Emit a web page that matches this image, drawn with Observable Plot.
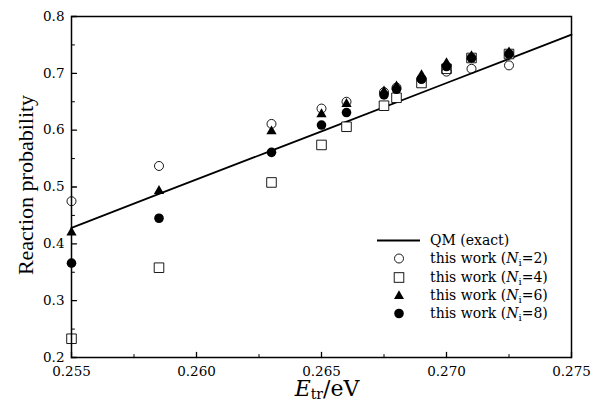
<!DOCTYPE html>
<html>
<head>
<meta charset="utf-8">
<script src="https://cdn.jsdelivr.net/npm/d3@7"></script>
<script src="https://cdn.jsdelivr.net/npm/@observablehq/plot@0.6"></script>
<style>
  html, body { margin: 0; padding: 0; background: #fff; }
  #wrap { position: relative; width: 592px; height: 406px; font-family: "DejaVu Serif", serif; color: #000; }
  #wrap svg { display: block; }
  #wrap svg text, #wrap svg g { font-family: "DejaVu Serif", serif !important; }
  .ylab { position: absolute; left: 26px; top: 185px; transform: translate(-50%, -50%) rotate(-90deg); font-size: 22px; line-height: 1; white-space: nowrap; font-family: "Liberation Serif", serif !important; }
  .xlab { position: absolute; left: 327px; top: 378px; transform: translateX(-50%); font-size: 22px; line-height: 1; white-space: nowrap; font-family: "DejaVu Serif", serif !important; }
  .xlab sub { font-size: 14px; vertical-align: -3px; line-height: 1; }
  .legend { position: absolute; left: 376px; top: 231px; font-size: 14px; font-family: "DejaVu Serif", serif !important; }
  .legend * { font-family: "DejaVu Serif", serif !important; }
  .legend .row { position: relative; height: 18.3px; line-height: 18.3px; white-space: nowrap; }
  .legend svg { position: absolute; left: 0; top: 0; }
  .legend span { position: absolute; left: 54px; top: 0; }
  .legend sub { font-size: 10px; vertical-align: -3px; line-height: 1; }
</style>
</head>
<body>
<div id="wrap"></div>
<script>
// ---- data ----
const energies = [0.255, 0.2585, 0.263, 0.265, 0.266, 0.2675, 0.268, 0.269, 0.270, 0.271, 0.2725];
const n2 = [0.475, 0.537, 0.611, 0.638, 0.650, 0.667, 0.675, 0.690, 0.703, 0.708, 0.714];
const n4 = [0.233, 0.358, 0.508, 0.574, 0.606, 0.643, 0.657, 0.683, 0.708, 0.727, 0.734];
const n6 = [0.420, 0.493, 0.598, 0.628, 0.646, 0.668, 0.677, 0.697, 0.718, 0.730, 0.737];
const n8 = [0.366, 0.445, 0.561, 0.609, 0.631, 0.662, 0.672, 0.690, 0.712, 0.727, 0.734];
const qmE = [0.255, 0.2585, 0.263, 0.265, 0.270, 0.275];
const qmP = [0.428, 0.488, 0.564, 0.598, 0.683, 0.768];
const xTicks = [0.255, 0.260, 0.265, 0.270, 0.275];
const xMinor = [0.2575, 0.2625, 0.2675, 0.2725];
const yTicks = [0.2, 0.3, 0.4, 0.5, 0.6, 0.7, 0.8];
const yMinor = [0.25, 0.35, 0.45, 0.55, 0.65, 0.75];

const pts = (vals) => energies.map((e, i) => ({e, p: vals[i]}));
const qm = qmE.map((e, i) => ({e, p: qmP[i]}));
const tickShape = { draw(ctx, l) { ctx.moveTo(0, 0); ctx.lineTo(0, -l); } };

const chart = Plot.plot({
  width: 592, height: 406,
  marginLeft: 71, marginRight: 21, marginTop: 16, marginBottom: 49,
  style: "font-family: 'DejaVu Serif', serif; font-size: 14px; color: #000; background: #fff;",
  x: { domain: [0.255, 0.275] },
  y: { domain: [0.2, 0.8] },
  marks: [
    Plot.axisX(xTicks, { tickSize: 0, tickPadding: 8.5, tickFormat: d3.format(".3f"), fontSize: 13.5, label: null }),
    Plot.axisY(yTicks, { tickSize: 0, tickPadding: 7, tickFormat: d3.format(".1f"), fontSize: 13.5, label: null }),
    Plot.vector(xTicks, { x: d => d, y: () => 0.2, length: 5, rotate: 0, anchor: "start", shape: tickShape, stroke: "black", strokeWidth: 1.3 }),
    Plot.vector(xMinor, { x: d => d, y: () => 0.2, length: 3, rotate: 0, anchor: "start", shape: tickShape, stroke: "black", strokeWidth: 1 }),
    Plot.vector(yTicks, { x: () => 0.255, y: d => d, length: 5, rotate: 90, anchor: "start", shape: tickShape, stroke: "black", strokeWidth: 1.3 }),
    Plot.vector(yMinor, { x: () => 0.255, y: d => d, length: 3, rotate: 90, anchor: "start", shape: tickShape, stroke: "black", strokeWidth: 1 }),
    Plot.line(qm, { x: "e", y: "p", stroke: "black", strokeWidth: 1.8 }),
    Plot.dot(pts(n4), { x: "e", y: "p", symbol: "square", r: 5.4, stroke: "black", strokeWidth: 0.9, fill: "white" }),
    Plot.dot(pts(n2), { x: "e", y: "p", symbol: "circle", r: 4.5, stroke: "black", strokeWidth: 0.9, fill: "none" }),
    Plot.dot(pts(n6), { x: "e", y: "p", symbol: "triangle", r: 3.8, fill: "black", stroke: "none" }),
    Plot.dot(pts(n8), { x: "e", y: "p", symbol: "circle", r: 4.8, fill: "black", stroke: "none" }),
    Plot.frame({ stroke: "black", strokeWidth: 1.5 })
  ]
});

const wrap = document.getElementById("wrap");
wrap.appendChild(chart);

const ylab = document.createElement("div");
ylab.className = "ylab";
ylab.textContent = "Reaction probability";
wrap.appendChild(ylab);

const xlab = document.createElement("div");
xlab.className = "xlab";
xlab.innerHTML = "<i>E</i><sub>tr</sub>/eV";
wrap.appendChild(xlab);

const legendItems = [
  { sym: '<line x1="1" x2="44" y1="9.5" y2="9.5" stroke="black" stroke-width="1.8"/>', label: "QM (exact)" },
  { sym: '<circle cx="23" cy="9.5" r="4.5" fill="none" stroke="black" stroke-width="0.9"/>', label: "this work (<i>N</i><sub>i</sub>=2)" },
  { sym: '<rect x="18.2" y="4.7" width="9.6" height="9.6" fill="none" stroke="black" stroke-width="0.9"/>', label: "this work (<i>N</i><sub>i</sub>=4)" },
  { sym: '<path d="M23,4.2L28,13L18,13Z" fill="black"/>', label: "this work (<i>N</i><sub>i</sub>=6)" },
  { sym: '<circle cx="23" cy="9.5" r="4.8" fill="black"/>', label: "this work (<i>N</i><sub>i</sub>=8)" }
];
const legend = document.createElement("div");
legend.className = "legend";
legend.innerHTML = legendItems.map(it =>
  `<div class="row"><svg width="48" height="19">${it.sym}</svg><span>${it.label}</span></div>`).join("");
wrap.appendChild(legend);
</script>
</body>
</html>
